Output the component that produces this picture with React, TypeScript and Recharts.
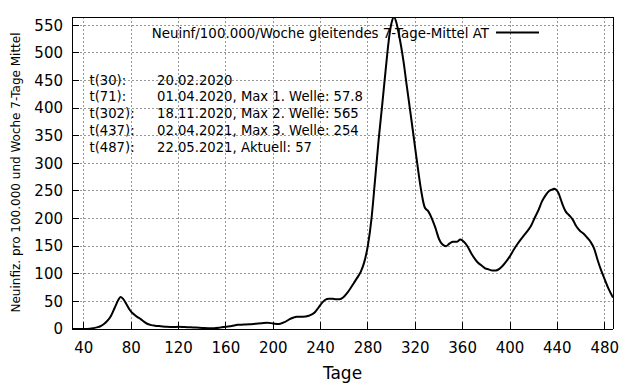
import React from "react";
import { LineChart, Line, XAxis, YAxis, CartesianGrid, Customized } from "recharts";

// 7-Tage-Mittel
const DAYS = [
  30, 35, 40, 45, 48, 51, 54, 57, 60, 63, 66, 69, 71, 73, 76, 79, 82, 85, 88, 91, 94, 97, 100,
  105, 110, 115, 120, 125, 130, 135, 140, 145, 150, 155, 160, 165, 170, 175, 180, 185, 190, 195,
  200, 205, 210, 215, 220, 225, 230, 235, 238, 241, 244, 247, 250, 253, 256, 259, 262, 265, 268,
  271, 274, 277, 280, 283, 286, 289, 292, 295, 298, 300, 302, 304, 306, 308, 310, 313, 316, 319,
  322, 325, 328, 331, 334, 337, 340, 343, 346, 349, 352, 355, 358, 361, 364, 367, 370, 373, 376,
  379, 382, 385, 388, 391, 394, 397, 400, 403, 406, 409, 412, 415, 418, 421, 424, 427, 430, 433,
  436, 437, 439, 441, 443, 445, 447, 450, 453, 456, 459, 462, 465, 468, 471, 474, 477, 480, 483,
  487,
];
const VALUES = [
  0, 0, 0, 0.5, 1.5, 3, 5, 9, 15, 24, 38, 52, 57.8, 55, 45, 34, 27, 22, 18, 13, 9, 7, 6,
  5, 4, 3.5, 4, 3.5, 3, 2.5, 2, 1.5, 1.5, 2.5, 4, 5.5, 7.5, 8, 8.5, 9.5, 10.5, 11.5,
  10, 9, 13, 19, 22, 22, 24, 30, 38, 47, 53, 55, 55, 54, 54, 57, 64, 73, 83,
  93, 104, 122, 152, 200, 270, 342, 405, 470, 530, 555, 565, 555, 535, 512, 485, 437, 390, 342,
  294, 250, 220, 213, 200, 183, 163, 153, 150, 155, 158, 158, 162, 158, 150, 138, 128, 120, 115,
  110, 108, 106, 106, 109, 115, 123, 132, 143, 153, 162, 170, 178, 188, 202, 215, 231, 242, 250,
  253, 254, 252, 246, 234, 222, 213, 206, 198, 186, 178, 173, 166, 158, 146, 125, 106, 90, 74,
  57,
];
const X_TICKS = [40, 80, 120, 160, 200, 240, 280, 320, 360, 400, 440, 480];
const Y_TICKS = [0, 50, 100, 150, 200, 250, 300, 350, 400, 450, 500, 550];
const NOTES = [
  ["t(30):", "20.02.2020"],
  ["t(71):", "01.04.2020, Max 1. Welle: 57.8"],
  ["t(302):", "18.11.2020, Max 2. Welle: 565"],
  ["t(437):", "02.04.2021, Max 3. Welle: 254"],
  ["t(487):", "22.05.2021, Aktuell: 57"],
];

const data = DAYS.map((day, i) => ({ day, value: VALUES[i] }));

const FONT = "'DejaVu Sans', sans-serif";
const crisp = { stroke: "#000", strokeWidth: 1, shapeRendering: "crispEdges" };

const Overlay = () => (
  <g fontFamily={FONT} fill="#000">
    <text x={489} y={38} fontSize={13.4} textAnchor="end">
      Neuinf/100.000/Woche gleitendes 7-Tage-Mittel AT
    </text>
    <line x1={496} x2={539} y1={32.5} y2={32.5} stroke="#000" strokeWidth={2} />
    {NOTES.map(([t, txt], i) => (
      <g key={t} fontSize={13.2}>
        <text x={89.5} y={84.5 + i * 16.75}>{t}</text>
        <text x={157} y={84.5 + i * 16.75}>{txt}</text>
      </g>
    ))}
    <text transform="rotate(-90)" x={-172.5} y={20} fontSize={12} textAnchor="middle">
      Neuinfiz. pro 100.000 und Woche 7-Tage Mittel
    </text>
  </g>
);

export default function App() {
  return (
    <div style={{ position: "absolute", left: 0, top: 0, fontFamily: FONT }}>
      <LineChart width={640} height={384} data={data} margin={{ top: 16, right: 26, bottom: 0, left: 0 }}>
        <CartesianGrid stroke="#999" strokeDasharray="2 2" shapeRendering="crispEdges" />
        <XAxis
          dataKey="day"
          type="number"
          domain={[30, 487]}
          ticks={X_TICKS}
          allowDataOverflow
          height={55}
          tickSize={-7}
          tickMargin={20}
          stroke="#000"
          axisLine={crisp}
          tickLine={crisp}
          tick={{ fill: "#000", fontSize: 15 }}
          label={{ value: "Tage", position: "insideBottom", offset: 5, fontSize: 17, fill: "#000" }}
        />
        <XAxis
          xAxisId="top"
          orientation="top"
          dataKey="day"
          type="number"
          domain={[30, 487]}
          ticks={X_TICKS}
          allowDataOverflow
          height={1}
          tickSize={-7}
          tick={false}
          stroke="#000"
          axisLine={crisp}
          tickLine={crisp}
        />
        <YAxis
          type="number"
          domain={[0, 565]}
          ticks={Y_TICKS}
          allowDataOverflow
          width={72}
          tickSize={-7}
          tickMargin={16}
          stroke="#000"
          axisLine={crisp}
          tickLine={crisp}
          tick={{ fill: "#000", fontSize: 15 }}
        />
        <YAxis
          yAxisId="right"
          orientation="right"
          type="number"
          domain={[0, 565]}
          ticks={Y_TICKS}
          allowDataOverflow
          width={1}
          tickSize={-7}
          tick={false}
          stroke="#000"
          axisLine={crisp}
          tickLine={crisp}
        />
        <Line
          type="monotone"
          dataKey="value"
          stroke="#000"
          strokeWidth={2}
          dot={false}
          isAnimationActive={false}
        />
        <Customized component={Overlay} />
      </LineChart>
    </div>
  );
}
